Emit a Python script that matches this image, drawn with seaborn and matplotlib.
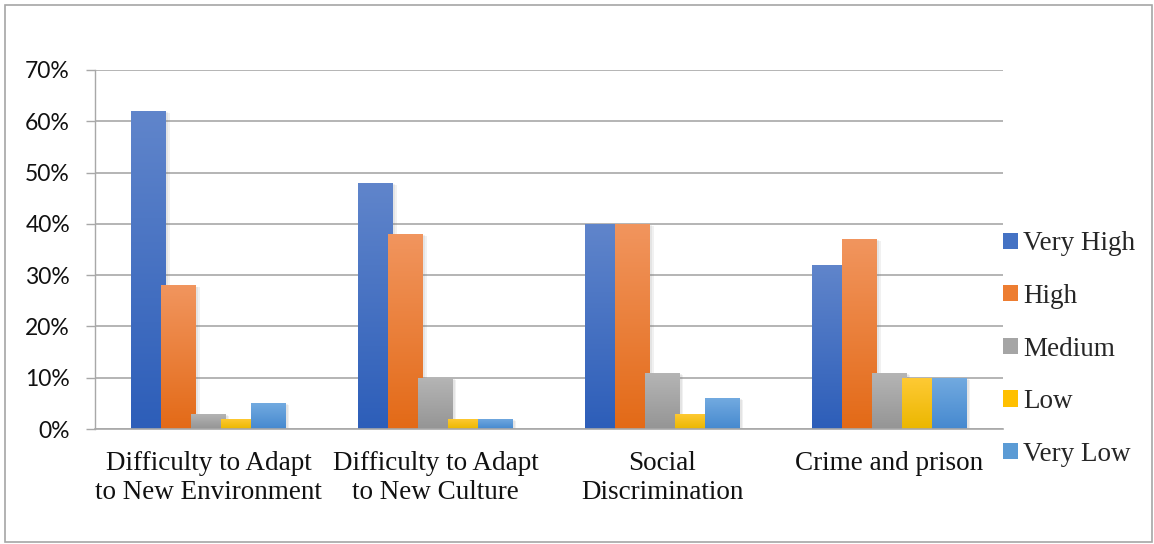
import numpy as np
import pandas as pd
import matplotlib
matplotlib.use("Agg")
import matplotlib.pyplot as plt
import matplotlib.patheffects as pe
from matplotlib.patches import Patch, Rectangle
from matplotlib.colors import to_rgb
from matplotlib.ticker import PercentFormatter
import seaborn as sns

# Survey data: share of respondents per rating level for each issue
issues = [
    "Difficulty to Adapt\nto New Environment",
    "Difficulty to Adapt\nto New Culture",
    "Social\nDiscrimination",
    "Crime and prison",
]
levels = ["Very High", "High", "Medium", "Low", "Very Low"]
very_high = [0.62, 0.48, 0.40, 0.32]
high = [0.28, 0.38, 0.40, 0.37]
medium = [0.03, 0.10, 0.11, 0.11]
low = [0.02, 0.02, 0.03, 0.10]
very_low = [0.05, 0.02, 0.06, 0.10]
y_ticks = [0.0, 0.1, 0.2, 0.3, 0.4, 0.5, 0.6, 0.7]

series = [very_high, high, medium, low, very_low]
df = pd.DataFrame(
    [(iss, lev, vals[i]) for lev, vals in zip(levels, series) for i, iss in enumerate(issues)],
    columns=["issue", "level", "value"],
)

# Gradient fills (top colour, bottom colour) per level
grad_top = ["#6085CB", "#F1955E", "#B5B5B5", "#FFCA35", "#72AAE0"]
grad_bot = ["#2D5EB9", "#E36A17", "#959595", "#EBB700", "#4689CF"]
legend_col = ["#4472C4", "#ED7D31", "#A5A5A5", "#FFC000", "#5B9BD5"]

sns.set_theme(style="white")
plt.rcParams["font.family"] = ["Liberation Serif", "DejaVu Serif"]

W, H = 1154, 544
fig = plt.figure(figsize=(W / 100, H / 100), dpi=100)
ax = fig.add_axes([95 / W, 115 / H, (1003 - 95) / W, (429 - 70) / H])

sns.barplot(
    data=df, x="issue", y="value", hue="level", order=issues, hue_order=levels,
    palette=grad_bot, saturation=1, width=0.66, dodge=True, legend=False, ax=ax,
)

# Widen the bars so neighbours overlap slightly, then add gradient and soft shadow
bar_w = 35 / 227
n_cat = len(issues)
for k, p in enumerate(ax.patches):
    lev = k // n_cat
    cx = p.get_x() + p.get_width() / 2
    p.set_x(cx - bar_w / 2)
    p.set_width(bar_w)
    p.set_edgecolor("none")
    p.set_linewidth(0)
    p.set_zorder(2 + 0.01 * k)
    p.set_path_effects([
        pe.SimplePatchShadow(offset=(2.5, -1.5), shadow_rgbFace="#777777", alpha=0.10),
        pe.SimplePatchShadow(offset=(1.2, -0.8), shadow_rgbFace="#777777", alpha=0.10),
        pe.Normal(),
    ])
    h = p.get_height()
    if h <= 0:
        continue
    top = np.array(to_rgb(grad_top[lev]))
    bot = np.array(to_rgb(grad_bot[lev]))
    t = np.linspace(0, 1, 64)[:, None, None]
    img = bot * (1 - t) + top * t
    im = ax.imshow(
        img, extent=[p.get_x(), p.get_x() + bar_w, 0, h], origin="lower",
        aspect="auto", interpolation="bilinear", zorder=2.005 + 0.01 * k,
    )
    im.set_clip_path(p)

ax.set_xlim(-0.5, n_cat - 0.5)
ax.set_ylim(0, 0.70)
ax.set_yticks(y_ticks)
ax.yaxis.set_major_formatter(PercentFormatter(1.0, decimals=0))
ax.set_xlabel("")
ax.set_ylabel("")

grid_col = "#A8A8A8"
ax.set_axisbelow(True)
ax.yaxis.grid(True, color=grid_col, linewidth=1.2)
ax.xaxis.grid(False)
for side in ["top", "right"]:
    ax.spines[side].set_visible(False)
ax.spines["left"].set_color(grid_col)
ax.spines["left"].set_linewidth(1.0)
ax.spines["bottom"].set_color(grid_col)
ax.spines["bottom"].set_linewidth(1.2)

ax.tick_params(axis="y", which="major", length=6.5, width=1.0, color=grid_col,
               direction="out", left=True, pad=11.5)
ax.tick_params(axis="x", length=0, pad=16)
for lbl in ax.get_yticklabels():
    lbl.set_fontfamily(["Lato", "DejaVu Sans"])
    lbl.set_fontsize(16.5)
    lbl.set_color("#111111")
for lbl in ax.get_xticklabels():
    lbl.set_fontsize(19.5)
    lbl.set_color("#111111")
    lbl.set_linespacing(1.22)
    lbl.set_multialignment("center")

handles = [Patch(facecolor=c, edgecolor="none") for c in legend_col]
fig.legend(
    handles, levels, loc="center left", bbox_to_anchor=(1003 / W, 1 - 349 / H),
    bbox_transform=fig.transFigure, frameon=False, fontsize=19.5,
    handlelength=0.55, handleheight=0.55, handletextpad=0.2,
    labelspacing=1.02, borderpad=0, borderaxespad=0,
)

# Outer frame around the whole chart
fig.patches.append(Rectangle(
    (5 / W, 2 / H), (1152 - 5) / W, (542 - 5) / H, transform=fig.transFigure,
    fill=False, edgecolor="#A6A6A6", linewidth=1.2,
))

fig.savefig("out.png", dpi=100)
